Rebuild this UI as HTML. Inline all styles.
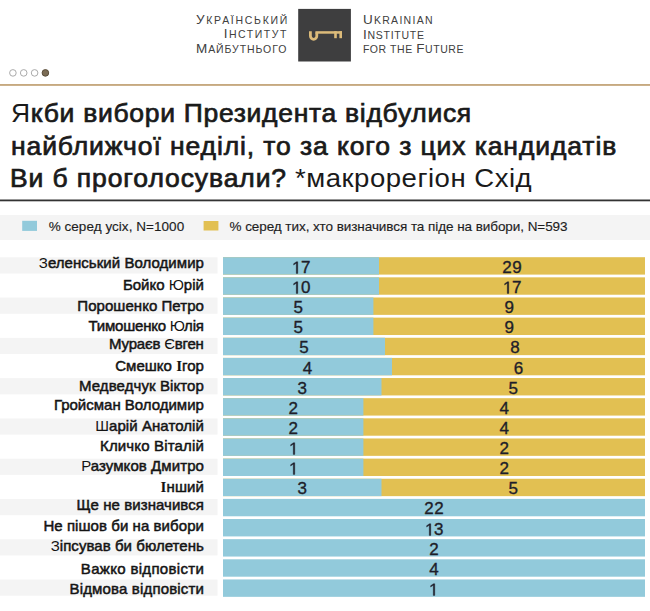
<!DOCTYPE html>
<html><head><meta charset="utf-8"><style>
html,body{margin:0;padding:0;background:#fff;}
body{width:650px;height:611px;position:relative;overflow:hidden;font-family:"Liberation Sans", sans-serif;}
.t{position:absolute;white-space:nowrap;}
.bg{position:absolute;left:0;top:0;}
</style></head><body>
<svg class="bg" width="650" height="611" viewBox="0 0 650 611">
<rect x="298.20" y="8.90" width="52.70" height="52.60" fill="#3e3e3f"/>
<g fill="none" stroke="#dcbb7a" stroke-width="2.8"><path d="M310.4,31.2 V36.1 A3.2,3.2 0 0 0 316.8,36.1 V32.4"/></g><g fill="#dcbb7a"><rect x="315.4" y="31.2" width="26.6" height="2.5"/><rect x="334.2" y="31.2" width="2.6" height="7"/><rect x="339.4" y="31.2" width="2.6" height="7"/></g>
<circle cx="12.9" cy="72.9" r="3.30" fill="none" stroke="#aaaaaa" stroke-width="1"/>
<circle cx="23.7" cy="72.9" r="3.30" fill="none" stroke="#aaaaaa" stroke-width="1"/>
<circle cx="34.6" cy="72.9" r="3.30" fill="none" stroke="#aaaaaa" stroke-width="1"/>
<circle cx="45.4" cy="72.9" r="3.30" fill="#7b6c55" stroke="#5a4d3a" stroke-width="1"/>
<rect x="0.00" y="84.05" width="650.00" height="1.80" fill="#c4a57a"/>
<rect x="0.00" y="199.50" width="650.00" height="1.80" fill="#333333"/>
<rect x="0.00" y="215.00" width="650.00" height="25.00" fill="#f4f4f4"/>
<rect x="22.20" y="220.80" width="14.80" height="10.10" fill="#92cadb"/>
<rect x="203.60" y="221.00" width="14.80" height="9.50" fill="#e2c052"/>
<rect x="0.00" y="257.30" width="217.50" height="16.20" fill="#f4f4f4"/>
<rect x="223.00" y="257.20" width="422.00" height="17.40" fill="#e2c052"/>
<rect x="223.00" y="257.20" width="156.00" height="17.40" fill="#92cadb"/>
<rect x="223.00" y="277.34" width="422.00" height="17.40" fill="#e2c052"/>
<rect x="223.00" y="277.34" width="156.00" height="17.40" fill="#92cadb"/>
<rect x="0.00" y="297.58" width="217.50" height="16.20" fill="#f4f4f4"/>
<rect x="223.00" y="297.48" width="422.00" height="17.40" fill="#e2c052"/>
<rect x="223.00" y="297.48" width="150.40" height="17.40" fill="#92cadb"/>
<rect x="223.00" y="317.62" width="422.00" height="17.40" fill="#e2c052"/>
<rect x="223.00" y="317.62" width="150.40" height="17.40" fill="#92cadb"/>
<rect x="0.00" y="337.86" width="217.50" height="16.20" fill="#f4f4f4"/>
<rect x="223.00" y="337.76" width="422.00" height="17.40" fill="#e2c052"/>
<rect x="223.00" y="337.76" width="162.00" height="17.40" fill="#92cadb"/>
<rect x="223.00" y="357.90" width="422.00" height="17.40" fill="#e2c052"/>
<rect x="223.00" y="357.90" width="169.00" height="17.40" fill="#92cadb"/>
<rect x="0.00" y="378.14" width="217.50" height="16.20" fill="#f4f4f4"/>
<rect x="223.00" y="378.04" width="422.00" height="17.40" fill="#e2c052"/>
<rect x="223.00" y="378.04" width="158.50" height="17.40" fill="#92cadb"/>
<rect x="223.00" y="398.18" width="422.00" height="17.40" fill="#e2c052"/>
<rect x="223.00" y="398.18" width="140.40" height="17.40" fill="#92cadb"/>
<rect x="0.00" y="418.42" width="217.50" height="16.20" fill="#f4f4f4"/>
<rect x="223.00" y="418.32" width="422.00" height="17.40" fill="#e2c052"/>
<rect x="223.00" y="418.32" width="140.40" height="17.40" fill="#92cadb"/>
<rect x="223.00" y="438.46" width="422.00" height="17.40" fill="#e2c052"/>
<rect x="223.00" y="438.46" width="140.40" height="17.40" fill="#92cadb"/>
<rect x="0.00" y="458.70" width="217.50" height="16.20" fill="#f4f4f4"/>
<rect x="223.00" y="458.60" width="422.00" height="17.40" fill="#e2c052"/>
<rect x="223.00" y="458.60" width="140.40" height="17.40" fill="#92cadb"/>
<rect x="223.00" y="478.74" width="422.00" height="17.40" fill="#e2c052"/>
<rect x="223.00" y="478.74" width="158.50" height="17.40" fill="#92cadb"/>
<rect x="0.00" y="498.98" width="217.50" height="16.20" fill="#f4f4f4"/>
<rect x="223.00" y="498.88" width="422.00" height="17.40" fill="#92cadb"/>
<rect x="223.00" y="519.02" width="422.00" height="17.40" fill="#92cadb"/>
<rect x="0.00" y="539.26" width="217.50" height="16.20" fill="#f4f4f4"/>
<rect x="223.00" y="539.16" width="422.00" height="17.40" fill="#92cadb"/>
<rect x="223.00" y="559.30" width="422.00" height="17.40" fill="#92cadb"/>
<rect x="0.00" y="579.54" width="217.50" height="16.20" fill="#f4f4f4"/>
<rect x="223.00" y="579.44" width="422.00" height="17.40" fill="#92cadb"/>
</svg>
<div id="ll0" class="t" style="top:12.00px;font-size:13.5px;line-height:16.2px;font-weight:normal;color:#404040;letter-spacing:1.710px;right:360.99px;text-align:right;"><span style="font-size:13.5px">У</span><span style="font-size:10.5px">КРАЇНСЬКИЙ</span></div>
<div id="ll1" class="t" style="top:26.00px;font-size:13.5px;line-height:16.2px;font-weight:normal;color:#404040;letter-spacing:1.514px;right:362.19px;text-align:right;"><span style="font-size:13.5px">І</span><span style="font-size:10.5px">НСТИТУТ</span></div>
<div id="ll2" class="t" style="top:41.00px;font-size:13.5px;line-height:16.2px;font-weight:normal;color:#404040;letter-spacing:0.910px;right:362.79px;text-align:right;"><span style="font-size:13.5px">М</span><span style="font-size:10.5px">АЙБУТНЬОГО</span></div>
<div id="lr0" class="t" style="top:12.00px;font-size:13.5px;line-height:16.2px;font-weight:normal;color:#404040;letter-spacing:1.288px;left:362.90px;"><span style="font-size:13.5px">U</span><span style="font-size:10.5px">KRAINIAN</span></div>
<div id="lr1" class="t" style="top:27.00px;font-size:13.5px;line-height:16.2px;font-weight:normal;color:#404040;letter-spacing:0.750px;left:362.90px;"><span style="font-size:13.5px">I</span><span style="font-size:10.5px">NSTITUTE</span></div>
<div id="lr2" class="t" style="top:41.00px;font-size:13.5px;line-height:16.2px;font-weight:normal;color:#404040;letter-spacing:0.562px;left:362.90px;"><span style="font-size:10.5px">FOR</span><span style="font-size:10.5px"> </span><span style="font-size:10.5px">THE</span><span style="font-size:10.5px"> </span><span style="font-size:13.5px">F</span><span style="font-size:10.5px">UTURE</span></div>
<div id="ti0" class="t" style="top:98.00px;font-size:25px;line-height:30.0px;font-weight:normal;color:#1a1a1a;left:11.10px;transform:scaleX(1.06);transform-origin:0 0;"><span style="font-weight:normal;letter-spacing:0.658px">Я</span><span style="font-weight:normal;-webkit-text-stroke:0.7px #1a1a1a;letter-spacing:0.658px">кби вибори Президента відбулися</span></div>
<div id="ti1" class="t" style="top:131.00px;font-size:25px;line-height:30.0px;font-weight:normal;color:#1a1a1a;left:11.40px;transform:scaleX(1.06);transform-origin:0 0;"><span style="font-weight:normal;-webkit-text-stroke:0.7px #1a1a1a;letter-spacing:0.844px">найближчої неділі, то за кого з цих кандидатів</span></div>
<div id="ti2" class="t" style="top:163.00px;font-size:25px;line-height:30.0px;font-weight:normal;color:#1a1a1a;left:10.40px;transform:scaleX(1.06);transform-origin:0 0;"><span style="font-weight:normal;-webkit-text-stroke:0.7px #1a1a1a;letter-spacing:0.844px">Ви б проголосували?</span></div>
<div id="ti3" class="t" style="top:163.00px;font-size:26px;line-height:31.2px;font-weight:normal;color:#1a1a1a;left:295.00px;transform:scaleX(1.06);transform-origin:0 0;"><span style="font-weight:normal;letter-spacing:0.475px">*макрорегіон Схід</span></div>
<div id="lg0" class="t" style="top:219.00px;font-size:13.5px;line-height:16.2px;font-weight:normal;color:#1e1e1e;letter-spacing:0.047px;left:48.65px;-webkit-text-stroke:0.15px #1e1e1e;">% серед усіх, N=1000</div>
<div id="lg1" class="t" style="top:219.00px;font-size:13.5px;line-height:16.2px;font-weight:normal;color:#1e1e1e;letter-spacing:-0.064px;left:229.50px;-webkit-text-stroke:0.15px #1e1e1e;">% серед тих, хто визначився та піде на вибори, N=593</div>
<div id="lb0" class="t" style="top:254.00px;font-size:15px;line-height:18.0px;font-weight:normal;color:#141414;letter-spacing:0.047px;right:446.05px;text-align:right;-webkit-text-stroke:0.5px #141414;"><span style="font-weight:normal;-webkit-text-stroke:0">З</span>еленський Володимир</div>
<div id="na0" class="t" style="top:258.00px;font-size:17px;line-height:20.4px;font-weight:normal;color:#1e1e2a;letter-spacing:0.400px;left:101.00px;width:400px;text-align:center;text-indent:0.4px;-webkit-text-stroke:0.35px #1e1e2a;"><svg width="9.455" height="12.451" viewBox="0 -1500 1139 1500" style="vertical-align:baseline;overflow:visible"><path d="M515,0V-1237L197,-1010V-1180L530,-1409H696V0Z" fill="#1e1e2a" stroke="#1e1e2a" stroke-width="42.2" stroke-linejoin="miter"/></svg>7</div>
<div id="nb0" class="t" style="top:258.00px;font-size:17px;line-height:20.4px;font-weight:normal;color:#1e1e2a;letter-spacing:0.400px;left:312.00px;width:400px;text-align:center;text-indent:0.4px;-webkit-text-stroke:0.35px #1e1e2a;">29</div>
<div id="lb1" class="t" style="top:276.00px;font-size:15px;line-height:18.0px;font-weight:normal;color:#141414;letter-spacing:0.000px;right:446.10px;text-align:right;-webkit-text-stroke:0.5px #141414;">Бойко <span style="font-weight:normal;-webkit-text-stroke:0">Ю</span>рій</div>
<div id="na1" class="t" style="top:278.00px;font-size:17px;line-height:20.4px;font-weight:normal;color:#1e1e2a;letter-spacing:0.400px;left:101.00px;width:400px;text-align:center;text-indent:0.4px;-webkit-text-stroke:0.35px #1e1e2a;"><svg width="9.455" height="12.451" viewBox="0 -1500 1139 1500" style="vertical-align:baseline;overflow:visible"><path d="M515,0V-1237L197,-1010V-1180L530,-1409H696V0Z" fill="#1e1e2a" stroke="#1e1e2a" stroke-width="42.2" stroke-linejoin="miter"/></svg>0</div>
<div id="nb1" class="t" style="top:278.00px;font-size:17px;line-height:20.4px;font-weight:normal;color:#1e1e2a;letter-spacing:0.400px;left:312.00px;width:400px;text-align:center;text-indent:0.4px;-webkit-text-stroke:0.35px #1e1e2a;"><svg width="9.455" height="12.451" viewBox="0 -1500 1139 1500" style="vertical-align:baseline;overflow:visible"><path d="M515,0V-1237L197,-1010V-1180L530,-1409H696V0Z" fill="#1e1e2a" stroke="#1e1e2a" stroke-width="42.2" stroke-linejoin="miter"/></svg>7</div>
<div id="lb2" class="t" style="top:297.00px;font-size:15px;line-height:18.0px;font-weight:normal;color:#141414;letter-spacing:0.050px;right:446.05px;text-align:right;-webkit-text-stroke:0.5px #141414;">Порошенко Петро</div>
<div id="na2" class="t" style="top:298.00px;font-size:17px;line-height:20.4px;font-weight:normal;color:#1e1e2a;letter-spacing:0.400px;left:98.20px;width:400px;text-align:center;text-indent:0.4px;-webkit-text-stroke:0.35px #1e1e2a;">5</div>
<div id="nb2" class="t" style="top:298.00px;font-size:17px;line-height:20.4px;font-weight:normal;color:#1e1e2a;letter-spacing:0.400px;left:309.20px;width:400px;text-align:center;text-indent:0.4px;-webkit-text-stroke:0.35px #1e1e2a;">9</div>
<div id="lb3" class="t" style="top:317.00px;font-size:15px;line-height:18.0px;font-weight:normal;color:#141414;letter-spacing:-0.215px;right:446.32px;text-align:right;-webkit-text-stroke:0.5px #141414;">Тимошенко <span style="font-weight:normal;-webkit-text-stroke:0">Ю</span>лія</div>
<div id="na3" class="t" style="top:318.00px;font-size:17px;line-height:20.4px;font-weight:normal;color:#1e1e2a;letter-spacing:0.400px;left:98.20px;width:400px;text-align:center;text-indent:0.4px;-webkit-text-stroke:0.35px #1e1e2a;">5</div>
<div id="nb3" class="t" style="top:318.00px;font-size:17px;line-height:20.4px;font-weight:normal;color:#1e1e2a;letter-spacing:0.400px;left:309.20px;width:400px;text-align:center;text-indent:0.4px;-webkit-text-stroke:0.35px #1e1e2a;">9</div>
<div id="lb4" class="t" style="top:335.00px;font-size:15px;line-height:18.0px;font-weight:normal;color:#141414;letter-spacing:-0.200px;right:446.30px;text-align:right;-webkit-text-stroke:0.5px #141414;">Мураєв <span style="font-weight:normal;-webkit-text-stroke:0">Є</span>вген</div>
<div id="na4" class="t" style="top:338.00px;font-size:17px;line-height:20.4px;font-weight:normal;color:#1e1e2a;letter-spacing:0.400px;left:104.00px;width:400px;text-align:center;text-indent:0.4px;-webkit-text-stroke:0.35px #1e1e2a;">5</div>
<div id="nb4" class="t" style="top:338.00px;font-size:17px;line-height:20.4px;font-weight:normal;color:#1e1e2a;letter-spacing:0.400px;left:315.00px;width:400px;text-align:center;text-indent:0.4px;-webkit-text-stroke:0.35px #1e1e2a;">8</div>
<div id="lb5" class="t" style="top:357.00px;font-size:15px;line-height:18.0px;font-weight:normal;color:#141414;letter-spacing:0.020px;right:446.08px;text-align:right;-webkit-text-stroke:0.5px #141414;">Смешко <span style="font-family:'Liberation Serif',serif;font-weight:bold;-webkit-text-stroke:0">І</span>гор</div>
<div id="na5" class="t" style="top:359.00px;font-size:17px;line-height:20.4px;font-weight:normal;color:#1e1e2a;letter-spacing:0.400px;left:107.50px;width:400px;text-align:center;text-indent:0.4px;-webkit-text-stroke:0.35px #1e1e2a;">4</div>
<div id="nb5" class="t" style="top:359.00px;font-size:17px;line-height:20.4px;font-weight:normal;color:#1e1e2a;letter-spacing:0.400px;left:318.50px;width:400px;text-align:center;text-indent:0.4px;-webkit-text-stroke:0.35px #1e1e2a;">6</div>
<div id="lb6" class="t" style="top:377.00px;font-size:15px;line-height:18.0px;font-weight:normal;color:#141414;letter-spacing:0.100px;right:446.00px;text-align:right;-webkit-text-stroke:0.5px #141414;">Медведчук Віктор</div>
<div id="na6" class="t" style="top:379.00px;font-size:17px;line-height:20.4px;font-weight:normal;color:#1e1e2a;letter-spacing:0.400px;left:102.25px;width:400px;text-align:center;text-indent:0.4px;-webkit-text-stroke:0.35px #1e1e2a;">3</div>
<div id="nb6" class="t" style="top:379.00px;font-size:17px;line-height:20.4px;font-weight:normal;color:#1e1e2a;letter-spacing:0.400px;left:313.25px;width:400px;text-align:center;text-indent:0.4px;-webkit-text-stroke:0.35px #1e1e2a;">5</div>
<div id="lb7" class="t" style="top:396.00px;font-size:15px;line-height:18.0px;font-weight:normal;color:#141414;letter-spacing:-0.006px;right:446.11px;text-align:right;-webkit-text-stroke:0.5px #141414;">Гройсман Володимир</div>
<div id="na7" class="t" style="top:399.00px;font-size:17px;line-height:20.4px;font-weight:normal;color:#1e1e2a;letter-spacing:0.400px;left:93.20px;width:400px;text-align:center;text-indent:0.4px;-webkit-text-stroke:0.35px #1e1e2a;">2</div>
<div id="nb7" class="t" style="top:399.00px;font-size:17px;line-height:20.4px;font-weight:normal;color:#1e1e2a;letter-spacing:0.400px;left:304.20px;width:400px;text-align:center;text-indent:0.4px;-webkit-text-stroke:0.35px #1e1e2a;">4</div>
<div id="lb8" class="t" style="top:417.00px;font-size:15px;line-height:18.0px;font-weight:normal;color:#141414;letter-spacing:0.069px;right:446.03px;text-align:right;-webkit-text-stroke:0.5px #141414;"><span style="font-weight:normal;-webkit-text-stroke:0">Ш</span>арій Анатолій</div>
<div id="na8" class="t" style="top:419.00px;font-size:17px;line-height:20.4px;font-weight:normal;color:#1e1e2a;letter-spacing:0.400px;left:93.20px;width:400px;text-align:center;text-indent:0.4px;-webkit-text-stroke:0.35px #1e1e2a;">2</div>
<div id="nb8" class="t" style="top:419.00px;font-size:17px;line-height:20.4px;font-weight:normal;color:#1e1e2a;letter-spacing:0.400px;left:304.20px;width:400px;text-align:center;text-indent:0.4px;-webkit-text-stroke:0.35px #1e1e2a;">4</div>
<div id="lb9" class="t" style="top:437.00px;font-size:15px;line-height:18.0px;font-weight:normal;color:#141414;letter-spacing:0.162px;right:445.94px;text-align:right;-webkit-text-stroke:0.5px #141414;">Кличко Віталій</div>
<div id="na9" class="t" style="top:439.00px;font-size:17px;line-height:20.4px;font-weight:normal;color:#1e1e2a;letter-spacing:0.400px;left:93.20px;width:400px;text-align:center;text-indent:0.4px;-webkit-text-stroke:0.35px #1e1e2a;"><svg width="9.455" height="12.451" viewBox="0 -1500 1139 1500" style="vertical-align:baseline;overflow:visible"><path d="M515,0V-1237L197,-1010V-1180L530,-1409H696V0Z" fill="#1e1e2a" stroke="#1e1e2a" stroke-width="42.2" stroke-linejoin="miter"/></svg></div>
<div id="nb9" class="t" style="top:439.00px;font-size:17px;line-height:20.4px;font-weight:normal;color:#1e1e2a;letter-spacing:0.400px;left:304.20px;width:400px;text-align:center;text-indent:0.4px;-webkit-text-stroke:0.35px #1e1e2a;">2</div>
<div id="lb10" class="t" style="top:457.00px;font-size:15px;line-height:18.0px;font-weight:normal;color:#141414;letter-spacing:0.079px;right:446.02px;text-align:right;-webkit-text-stroke:0.5px #141414;"><span style="font-weight:normal;-webkit-text-stroke:0">Р</span>азумков Дмитро</div>
<div id="na10" class="t" style="top:459.00px;font-size:17px;line-height:20.4px;font-weight:normal;color:#1e1e2a;letter-spacing:0.400px;left:93.20px;width:400px;text-align:center;text-indent:0.4px;-webkit-text-stroke:0.35px #1e1e2a;"><svg width="9.455" height="12.451" viewBox="0 -1500 1139 1500" style="vertical-align:baseline;overflow:visible"><path d="M515,0V-1237L197,-1010V-1180L530,-1409H696V0Z" fill="#1e1e2a" stroke="#1e1e2a" stroke-width="42.2" stroke-linejoin="miter"/></svg></div>
<div id="nb10" class="t" style="top:459.00px;font-size:17px;line-height:20.4px;font-weight:normal;color:#1e1e2a;letter-spacing:0.400px;left:304.20px;width:400px;text-align:center;text-indent:0.4px;-webkit-text-stroke:0.35px #1e1e2a;">2</div>
<div id="lb11" class="t" style="top:478.00px;font-size:15px;line-height:18.0px;font-weight:normal;color:#141414;letter-spacing:0.100px;right:446.00px;text-align:right;-webkit-text-stroke:0.5px #141414;"><span style="font-family:'Liberation Serif',serif;font-weight:bold;-webkit-text-stroke:0">І</span>нший</div>
<div id="na11" class="t" style="top:479.00px;font-size:17px;line-height:20.4px;font-weight:normal;color:#1e1e2a;letter-spacing:0.400px;left:102.25px;width:400px;text-align:center;text-indent:0.4px;-webkit-text-stroke:0.35px #1e1e2a;">3</div>
<div id="nb11" class="t" style="top:479.00px;font-size:17px;line-height:20.4px;font-weight:normal;color:#1e1e2a;letter-spacing:0.400px;left:313.25px;width:400px;text-align:center;text-indent:0.4px;-webkit-text-stroke:0.35px #1e1e2a;">5</div>
<div id="lb12" class="t" style="top:496.00px;font-size:15px;line-height:18.0px;font-weight:normal;color:#141414;letter-spacing:0.060px;right:446.04px;text-align:right;-webkit-text-stroke:0.5px #141414;">Ще не визначився</div>
<div id="na12" class="t" style="top:499.00px;font-size:17px;line-height:20.4px;font-weight:normal;color:#1e1e2a;letter-spacing:0.400px;left:234.00px;width:400px;text-align:center;text-indent:0.4px;-webkit-text-stroke:0.35px #1e1e2a;">22</div>
<div id="lb13" class="t" style="top:517.00px;font-size:15px;line-height:18.0px;font-weight:normal;color:#141414;letter-spacing:0.065px;right:446.03px;text-align:right;-webkit-text-stroke:0.5px #141414;">Не пішов би на вибори</div>
<div id="na13" class="t" style="top:520.00px;font-size:17px;line-height:20.4px;font-weight:normal;color:#1e1e2a;letter-spacing:0.400px;left:234.00px;width:400px;text-align:center;text-indent:0.4px;-webkit-text-stroke:0.35px #1e1e2a;"><svg width="9.455" height="12.451" viewBox="0 -1500 1139 1500" style="vertical-align:baseline;overflow:visible"><path d="M515,0V-1237L197,-1010V-1180L530,-1409H696V0Z" fill="#1e1e2a" stroke="#1e1e2a" stroke-width="42.2" stroke-linejoin="miter"/></svg>3</div>
<div id="lb14" class="t" style="top:537.00px;font-size:15px;line-height:18.0px;font-weight:normal;color:#141414;letter-spacing:0.053px;right:446.05px;text-align:right;-webkit-text-stroke:0.5px #141414;"><span style="font-weight:normal;-webkit-text-stroke:0">З</span>іпсував би бюлетень</div>
<div id="na14" class="t" style="top:540.00px;font-size:17px;line-height:20.4px;font-weight:normal;color:#1e1e2a;letter-spacing:0.400px;left:234.00px;width:400px;text-align:center;text-indent:0.4px;-webkit-text-stroke:0.35px #1e1e2a;">2</div>
<div id="lb15" class="t" style="top:560.00px;font-size:15px;line-height:18.0px;font-weight:normal;color:#141414;letter-spacing:0.327px;right:445.77px;text-align:right;-webkit-text-stroke:0.5px #141414;">Важко відповісти</div>
<div id="na15" class="t" style="top:560.00px;font-size:17px;line-height:20.4px;font-weight:normal;color:#1e1e2a;letter-spacing:0.400px;left:234.00px;width:400px;text-align:center;text-indent:0.4px;-webkit-text-stroke:0.35px #1e1e2a;">4</div>
<div id="lb16" class="t" style="top:580.00px;font-size:15px;line-height:18.0px;font-weight:normal;color:#141414;letter-spacing:0.165px;right:445.94px;text-align:right;-webkit-text-stroke:0.5px #141414;">Відмова відповісти</div>
<div id="na16" class="t" style="top:580.00px;font-size:17px;line-height:20.4px;font-weight:normal;color:#1e1e2a;letter-spacing:0.400px;left:234.00px;width:400px;text-align:center;text-indent:0.4px;-webkit-text-stroke:0.35px #1e1e2a;"><svg width="9.455" height="12.451" viewBox="0 -1500 1139 1500" style="vertical-align:baseline;overflow:visible"><path d="M515,0V-1237L197,-1010V-1180L530,-1409H696V0Z" fill="#1e1e2a" stroke="#1e1e2a" stroke-width="42.2" stroke-linejoin="miter"/></svg></div>
</body></html>
